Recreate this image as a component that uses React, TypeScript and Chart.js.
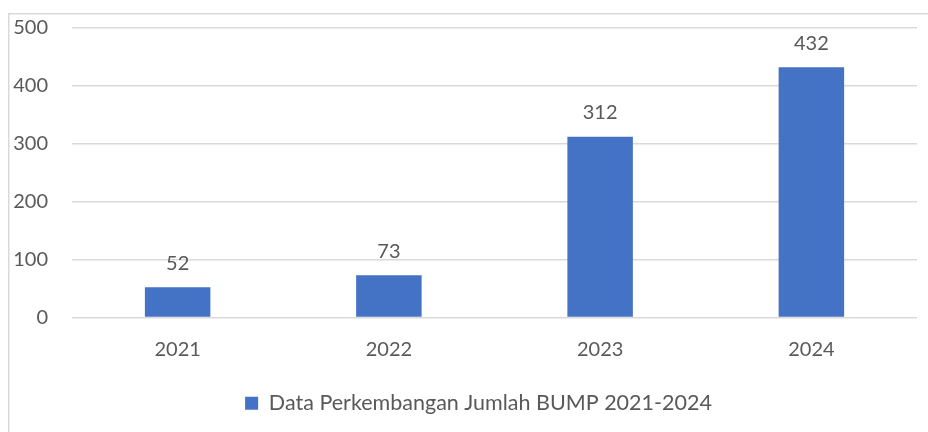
import React, { useEffect, useRef } from "react";
import { Chart, registerables } from "chart.js";

Chart.register(...registerables);

const categories = ["2021", "2022", "2023", "2024"];
const seriesName = "Data Perkembangan Jumlah BUMP 2021-2024";
const seriesValues = [52, 73, 312, 432];
const yTicks = [0, 100, 200, 300, 400, 500];

const FONT = "Lato";
const TEXT = "#595959";
const BAR = "#4472C4";
const GRID = "#d9d9d9";

const borderPlugin = {
  id: "outerBorder",
  beforeDraw(chart: any) {
    const ctx = chart.ctx;
    ctx.save();
    ctx.fillStyle = "#ffffff";
    ctx.fillRect(0, 0, chart.width, chart.height);
    ctx.strokeStyle = GRID;
    ctx.lineWidth = 1.5;
    ctx.strokeRect(8.75, 13.75, 2000, 2000);
    ctx.restore();
  },
};

const legendShift = {
  id: "legendShift",
  afterLayout(chart: any) {
    if (chart.legend) {
      chart.legend.left += 20;
      chart.legend.right += 20;
    }
  },
};

const labelPlugin = {
  id: "valueLabels",
  afterDatasetsDraw(chart: any) {
    const ctx = chart.ctx;
    const meta = chart.getDatasetMeta(0);
    ctx.save();
    ctx.font = `20px ${FONT}`;
    ctx.fillStyle = TEXT;
    ctx.textAlign = "center";
    ctx.textBaseline = "middle";
    meta.data.forEach((bar: any, i: number) => {
      ctx.fillText(String(seriesValues[i]), bar.x, bar.y - 24);
    });
    ctx.restore();
  },
};

export default function App() {
  const ref = useRef<HTMLCanvasElement>(null);
  useEffect(() => {
    document.body.style.margin = "0";
    const chart = new Chart(ref.current!, {
      type: "bar",
      data: {
        labels: categories,
        datasets: [
          {
            label: seriesName,
            data: seriesValues,
            backgroundColor: BAR,
            categoryPercentage: 1,
            barPercentage: 0.31,
          },
        ],
      },
      options: {
        animation: false,
        responsive: false,
        maintainAspectRatio: false,
        layout: { padding: { top: 28, right: 11, left: 0, bottom: 8 } },
        scales: {
          x: {
            grid: { display: false, drawTicks: false },
            border: { display: false },
            ticks: { color: TEXT, font: { family: FONT, size: 20 }, padding: 20 },
            afterFit(scale: any) {
              scale.height = 65.1;
            },
          },
          y: {
            min: 0,
            max: 500,
            afterBuildTicks(scale: any) {
              scale.ticks = yTicks.map((v) => ({ value: v }));
            },
            grid: {
              color: GRID,
              lineWidth: 1.5,
              drawTicks: true,
              tickLength: 24,
              tickColor: "rgba(0,0,0,0)",
            },
            border: { display: false },
            ticks: { color: TEXT, font: { family: FONT, size: 20 }, padding: 0 },
            afterFit(scale: any) {
              scale.width = 72;
            },
          },
        },
        plugins: {
          legend: {
            position: "bottom",
            labels: {
              color: TEXT,
              font: { family: FONT, size: 21.5 },
              boxWidth: 13,
              boxHeight: 13,
              padding: 10,
            },
          },
          tooltip: { enabled: false },
        },
      },
      plugins: [borderPlugin, legendShift, labelPlugin],
    });
    return () => chart.destroy();
  }, []);
  return (
    <div style={{ width: 928, height: 432 }}>
      <canvas ref={ref} width={928} height={432} style={{ display: "block" }} />
    </div>
  );
}
